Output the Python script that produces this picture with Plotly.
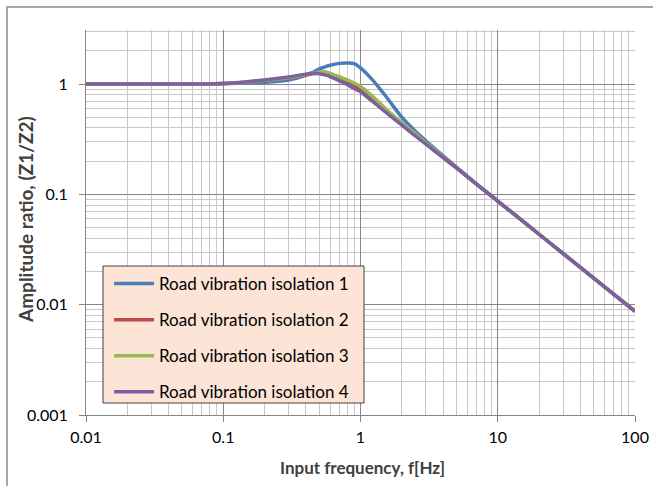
import plotly.graph_objects as go

freq = [0.01, 0.02, 0.05, 0.1, 0.15, 0.2, 0.3, 0.4, 0.45, 0.5, 0.55, 0.6, 0.7, 0.8, 0.9, 1.0,
        1.2, 1.5, 2, 2.5, 3, 4, 5, 7, 10, 20, 50, 100]

iso1 = [1.0, 1.0, 1.0, 1.01, 1.02, 1.04, 1.09, 1.20, 1.28, 1.37, 1.43, 1.48, 1.54, 1.55, 1.53, 1.40,
        1.12, 0.80, 0.50, 0.375, 0.305, 0.224, 0.177, 0.124, 0.087, 0.0435, 0.0174, 0.0087]
iso2 = [1.0, 1.0, 1.0, 1.01, 1.04, 1.08, 1.14, 1.21, 1.24, 1.26, 1.23, 1.19, 1.11, 1.04, 0.97, 0.88,
        0.74, 0.585, 0.435, 0.35, 0.29, 0.217, 0.174, 0.124, 0.087, 0.0435, 0.0174, 0.0087]
iso3 = [1.0, 1.0, 1.0, 1.01, 1.04, 1.08, 1.14, 1.22, 1.26, 1.28, 1.29, 1.25, 1.17, 1.09, 1.02, 0.95,
        0.79, 0.61, 0.445, 0.355, 0.293, 0.219, 0.174, 0.124, 0.087, 0.0435, 0.0174, 0.0087]
iso4 = [1.0, 1.0, 1.0, 1.01, 1.05, 1.09, 1.16, 1.23, 1.25, 1.24, 1.21, 1.17, 1.07, 0.99, 0.91, 0.85,
        0.71, 0.565, 0.425, 0.34, 0.285, 0.215, 0.174, 0.124, 0.087, 0.0435, 0.0174, 0.0087]

names = ["Road vibration isolation 1", "Road vibration isolation 2",
         "Road vibration isolation 3", "Road vibration isolation 4"]
colors = ["#4A7EBB", "#BE4B48", "#98B954", "#7D60A0"]
series = [iso1, iso2, iso3, iso4]

x_ticks = [0.01, 0.1, 1, 10, 100]
x_ticklabels = ["0.01", "0.1", "1", "10", "100"]
y_ticks = [0.001, 0.01, 0.1, 1]
y_ticklabels = ["0.001", "0.01", "0.1", "1"]
x_title = "Input frequency, f[Hz]"
y_title = "Amplitude ratio, (Z1/Z2)"

FONT = "Lato, 'Open Sans', sans-serif"

fig = go.Figure()
for i, (nm, col, ys) in enumerate(zip(names, colors, series)):
    fig.add_trace(go.Scatter(
        x=freq, y=ys, name=nm, mode="lines", line_shape="spline",
        line=dict(color=col, width=3.5, smoothing=0.9), legendgroup=f"g{i}",
    ))

axis_common = dict(
    type="log", showline=True, linecolor="#868686", linewidth=1,
    ticks="outside", ticklen=6, tickcolor="#868686",
    showgrid=True, gridcolor="#868686", gridwidth=1,
    minor=dict(showgrid=True, gridcolor="#C8C8C8", gridwidth=1, dtick="D1", ticks=""),
    tickfont=dict(family=FONT, size=16, color="#000000"),
    zeroline=False, mirror=False,
)

fig.update_xaxes(**axis_common, range=[-2, 2], tickvals=x_ticks, ticktext=x_ticklabels,
                 ticklabelstandoff=2)
fig.update_yaxes(**axis_common, range=[-3, 0.49], tickvals=y_ticks, ticktext=y_ticklabels,
                 ticklabelstandoff=8)

PW, PH = 549, 385  # plot area size in px
fig.update_layout(
    width=653, height=486,
    margin=dict(l=86, r=18, t=30, b=71, autoexpand=False),
    paper_bgcolor="white", plot_bgcolor="white",
    font=dict(family=FONT, color="#000000"),
    legend=dict(
        x=(109 - 86) / PW, y=0.387, xanchor="left", yanchor="top",
        bgcolor="rgba(0,0,0,0)", borderwidth=0,
        font=dict(family=FONT, size=17, color="#000000"),
        tracegroupgap=11, itemwidth=40,
    ),
    showlegend=True,
    annotations=[
        dict(text=f"<b>{x_title}</b>", xref="paper", yref="paper",
             x=(362 - 86) / PW, y=-(467 - 415) / PH, xanchor="center", yanchor="middle",
             showarrow=False, font=dict(family=FONT, size=17, color="#404040")),
        dict(text=f"<b>{y_title}</b>", xref="paper", yref="paper", textangle=-90,
             x=-(86 - 25) / PW, y=(415 - 220) / PH, xanchor="center", yanchor="middle",
             showarrow=False, font=dict(family=FONT, size=19, color="#404040")),
    ],
    shapes=[
        dict(type="rect", xref="paper", yref="paper",
             x0=-79 / PW, x1=1 + 30 / PW, y0=-100 / PH, y1=1 + 23 / PH,
             line=dict(color="#A6A6A6", width=2), fillcolor="rgba(0,0,0,0)",
             layer="below"),
        dict(type="rect", xref="paper", yref="paper",
             x0=(103 - 86) / PW, x1=(364 - 86) / PW,
             y0=(415 - 403) / PH, y1=(415 - 266) / PH,
             line=dict(color="#404040", width=1), fillcolor="#FCE4D6",
             layer="above"),
    ],
)

fig.write_html("out.html", config={"displayModeBar": False},
               post_script="document.body.style.margin='0';document.body.style.overflow='hidden';")
